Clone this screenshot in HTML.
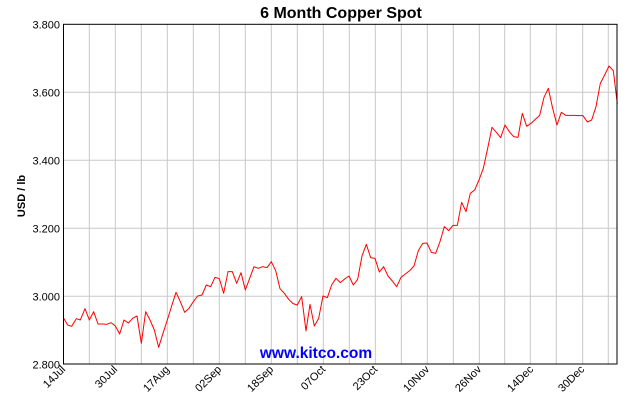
<!DOCTYPE html>
<html><head><style>
body{margin:0;background:#fff;}
svg{display:block;font-family:"Liberation Sans",Arial,sans-serif;}
</style></head><body>
<svg width="630" height="400" viewBox="0 0 630 400" xmlns="http://www.w3.org/2000/svg">
<rect width="630" height="400" fill="#fff"/>
<g stroke="#c8c8c8" stroke-width="1">
<line x1="89.3" y1="24" x2="89.3" y2="364"/><line x1="115.3" y1="24" x2="115.3" y2="364"/>
<line x1="141.3" y1="24" x2="141.3" y2="364"/><line x1="167.3" y1="24" x2="167.3" y2="364"/>
<line x1="193.3" y1="24" x2="193.3" y2="364"/><line x1="219.3" y1="24" x2="219.3" y2="364"/>
<line x1="245.3" y1="24" x2="245.3" y2="364"/><line x1="271.3" y1="24" x2="271.3" y2="364"/>
<line x1="297.3" y1="24" x2="297.3" y2="364"/><line x1="323.3" y1="24" x2="323.3" y2="364"/>
<line x1="349.3" y1="24" x2="349.3" y2="364"/><line x1="375.3" y1="24" x2="375.3" y2="364"/>
<line x1="401.3" y1="24" x2="401.3" y2="364"/><line x1="427.3" y1="24" x2="427.3" y2="364"/>
<line x1="453.3" y1="24" x2="453.3" y2="364"/><line x1="479.3" y1="24" x2="479.3" y2="364"/>
<line x1="504.7" y1="24" x2="504.7" y2="364"/><line x1="530.3" y1="24" x2="530.3" y2="364"/>
<line x1="556.3" y1="24" x2="556.3" y2="364"/><line x1="582.7" y1="24" x2="582.7" y2="364"/>
<line x1="608.3" y1="24" x2="608.3" y2="364"/>
<line x1="63.5" y1="92.3" x2="617" y2="92.3"/><line x1="63.5" y1="160.3" x2="617" y2="160.3"/>
<line x1="63.5" y1="228.3" x2="617" y2="228.3"/><line x1="63.5" y1="296.3" x2="617" y2="296.3"/>
</g>
<g transform="scale(0.33333)">
<polyline fill="none" stroke="#ff0000" stroke-width="3" stroke-linejoin="round" points="190,953 203,975 215,979 229,956 241,960 255,926 268,960 281,935 294,972 307,972 320,973 333,968 346,978 359,1002 372,960 385,969 398,955 411,948 424,1030 437,935 450,960 463,990 476,1042 489,1000 502,960 515,918 528,877 541,905 554,937 567,925 580,905 593,888 606,885 619,855 632,860 645,832 658,836 671,880 684,815 697,815 710,850 723,818 736,870 749,835 762,800 775,805 788,800 801,803 814,785 827,812 840,866 853,880 866,898 879,911 892,915 905,890 918,993 930,913 943,978 956,955 969,888 982,893 995,855 1008,835 1021,848 1034,837 1047,828 1060,855 1073,838 1086,768 1099,733 1112,773 1125,775 1138,816 1151,800 1164,828 1177,843 1190,860 1203,832 1216,822 1229,812 1242,798 1255,752 1268,730 1281,729 1294,757 1307,760 1320,725 1333,680 1346,692 1359,676 1372,676 1385,607 1398,635 1411,580 1424,570 1437,540 1450,505 1463,445 1476,382 1489,397 1502,413 1515,375 1528,395 1541,410 1554,412 1567,340 1580,379 1593,370 1606,358 1619,346 1632,292 1645,265 1658,325 1671,375 1684,337 1697,346 1710,346 1723,346 1736,347 1749,347 1762,366 1775,360 1788,320 1801,250 1814,225 1827,198 1840,212 1852,312"/>
</g>
<rect x="63.5" y="24.3" width="553.5" height="339.7" fill="none" stroke="#000" stroke-width="1"/>
<text x="341" y="18" font-size="16" font-weight="bold" text-anchor="middle">6 Month Copper Spot</text>
<g font-size="11" text-anchor="end" fill="#000">
<text x="60" y="28.5">3.800</text><text x="60" y="96.5">3.600</text>
<text x="60" y="164.5">3.400</text><text x="60" y="232.5">3.200</text>
<text x="60" y="300.5">3.000</text><text x="60" y="368.5">2.800</text>
</g>
<text transform="translate(25,196) rotate(-90)" font-size="11" font-weight="bold" text-anchor="middle">USD / lb</text>
<g font-size="11" text-anchor="end">
<text transform="translate(66,370) rotate(-45)">14Jul</text>
<text transform="translate(118,370) rotate(-45)">30Jul</text>
<text transform="translate(170,370) rotate(-45)">17Aug</text>
<text transform="translate(222,370) rotate(-45)">02Sep</text>
<text transform="translate(274,370) rotate(-45)">18Sep</text>
<text transform="translate(326,370) rotate(-45)">07Oct</text>
<text transform="translate(378,370) rotate(-45)">23Oct</text>
<text transform="translate(430,370) rotate(-45)">10Nov</text>
<text transform="translate(482,370) rotate(-45)">26Nov</text>
<text transform="translate(534,370) rotate(-45)">14Dec</text>
<text transform="translate(585,370) rotate(-45)">30Dec</text>
</g>
<text x="316" y="358" font-size="15.5" font-weight="bold" fill="#0000ff" text-anchor="middle">www.kitco.com</text>
</svg>
</body></html>
